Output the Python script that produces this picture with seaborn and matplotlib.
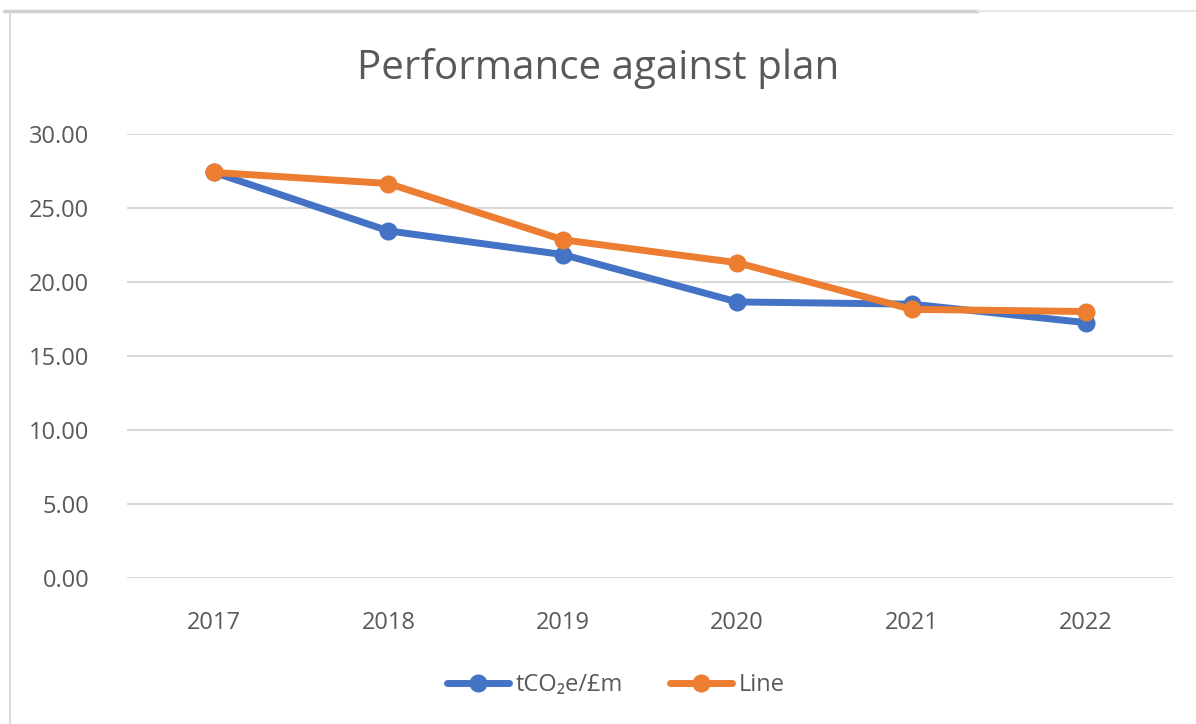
import matplotlib
matplotlib.use("Agg")
import matplotlib.pyplot as plt
from matplotlib.lines import Line2D
import seaborn as sns
import pandas as pd

# ---------------------------------- Data ----------------------------------

years = ["2017", "2018", "2019", "2020", "2021", "2022"]
actual = [27.40, 23.45, 21.85, 18.65, 18.50, 17.25]   # tCO2e/£m
plan = [27.40, 26.65, 22.85, 21.30, 18.15, 18.00]     # Line

series_names = ["tCO₂e/£m", "Line"]
colors = ["#4472C4", "#ED7D31"]
y_ticks = [0, 5, 10, 15, 20, 25, 30]

df = pd.DataFrame({
    "year": years * 2,
    "value": actual + plan,
    "series": [series_names[0]] * len(years) + [series_names[1]] * len(years),
})

# ---------------------------------- Plot ----------------------------------

sns.set_theme(style="white")
plt.rcParams["font.family"] = ["Open Sans", "DejaVu Sans"]
grey = "#595959"

fig = plt.figure(figsize=(11.96, 7.24), dpi=100)
ax = fig.add_axes([0.106, 0.2017, 0.875, 0.6133])

sns.lineplot(data=df, x="year", y="value", hue="series", palette=colors,
             marker="o", markersize=13, markeredgewidth=0, linewidth=5,
             sort=False, ax=ax, legend=False)

ax.set_xlim(-0.5, len(years) - 0.5)
ax.set_ylim(0, 30)
ax.set_yticks(y_ticks)
ax.set_yticklabels([f"{v:.2f}" for v in y_ticks])
ax.yaxis.grid(True, color="#D9D9D9", linewidth=1.5)
ax.xaxis.grid(False)
for s in ax.spines.values():
    s.set_visible(False)
ax.tick_params(axis="both", colors=grey, labelsize=17, length=0)
ax.tick_params(axis="x", pad=24)
ax.tick_params(axis="y", pad=27)
ax.set_xlabel("")
ax.set_ylabel("")

fig.text(0.5, 0.905, "Performance against plan", ha="center", va="center",
         fontsize=29, color=grey)

handles = [Line2D([], [], color=c, linewidth=5, marker="o", markersize=13,
                  markeredgewidth=0) for c in colors]
fig.legend(handles, series_names, loc="center", bbox_to_anchor=(0.515, 0.054),
           ncol=2, frameon=False, fontsize=17, labelcolor=grey,
           handlelength=2.6, handletextpad=0.3, columnspacing=2.0)

# chart area border (partial, like the screenshot)
fig.add_artist(Line2D([0.003, 0.818], [0.985, 0.985], color="#D0D0D0", linewidth=2.5))
fig.add_artist(Line2D([0.818, 1.0], [0.985, 0.985], color="#E6E6E6", linewidth=1.5))
fig.add_artist(Line2D([0.0085, 0.0085], [0.0, 0.985], color="#D9D9D9", linewidth=1.5))

fig.savefig("out.png", dpi=100, facecolor="white")
